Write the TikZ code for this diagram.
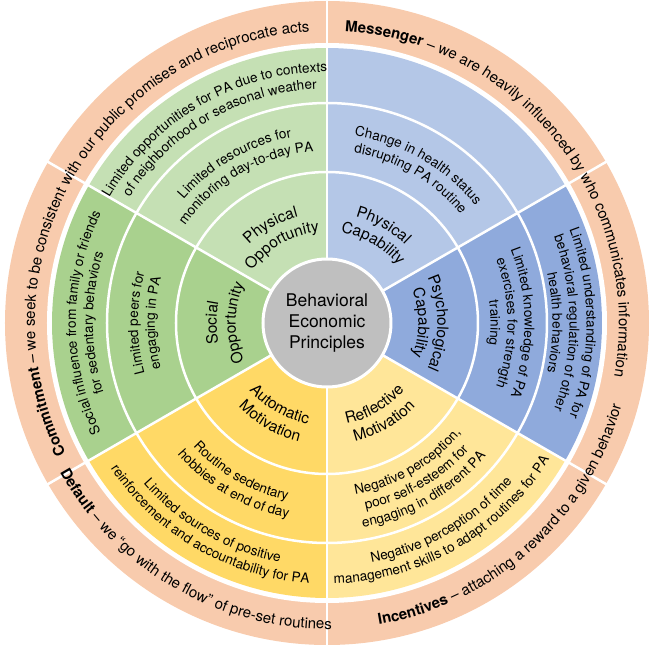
\documentclass[tikz,border=0pt]{standalone}
\usepackage{fontspec}
\setmainfont{TeX Gyre Heros}
\usetikzlibrary{decorations.text}
\definecolor{OppLight}{HTML}{C5E0B4}
\definecolor{OppDark}{HTML}{A9D18E}
\definecolor{MotDark}{HTML}{FFD966}
\definecolor{MotLight}{HTML}{FFE699}
\definecolor{CapDark}{HTML}{8FAADC}
\definecolor{CapLight}{HTML}{B4C7E7}
\definecolor{PrincOrange}{HTML}{F8CBAD}
\definecolor{CoreGray}{HTML}{BFBFBF}

\newcommand{\labelfont}{\fontsize{15.5}{18}\selectfont}
\newcommand{\itemfont}{\fontsize{13.6}{16}\selectfont}
\newcommand{\outerfont}{\fontsize{15}{18}\selectfont}
% text on an arc: start angle, end angle, radius, font, text
\newcommand{\arctext}[5]{\path[decorate, decoration={text along path, text align=center, text={|#4|#5}}] (#1:#3) arc[start angle=#1, end angle=#2, radius=#3];}

\begin{document}
\begin{tikzpicture}[x=1pt, y=1pt,
        divider/.style={white, line width=2.5pt},
        core/.style={circle, fill=CoreGray, draw=white, line width=3pt, minimum size=128pt, inner sep=0pt, align=center, font=\fontsize{17.5}{21}\selectfont}]
    \useasboundingbox (-327,-326) rectangle (327,323);

    % principle ring and sectors
    \fill[PrincOrange] (0,0) circle[radius=322];
    \fill[white] (0,0) circle[radius=280];
    \foreach \ang/\col in {90/OppLight, 150/OppDark, 210/MotDark, 270/MotLight, 330/CapDark, 30/CapLight}
        \fill[\col] (0,0) -- (\ang:275) arc[start angle=\ang, end angle=\ang+60, radius=275] -- cycle;
    \draw[divider] (0,0) circle[radius=151];
    \draw[divider] (0,0) circle[radius=220];
    \foreach \ang in {30,90,...,330}
        \draw[divider] (\ang:60) -- (\ang:323);

    \node[core] (core) at (0,0) {Behavioral\\Economic\\Principles};

    % COM-B components
    \arctext{150}{90}{110.4}{\labelfont}{Physical}
    \arctext{150}{90}{91.4}{\labelfont}{Opportunity}
    \arctext{90}{30}{110.4}{\labelfont}{Physical}
    \arctext{90}{30}{91.4}{\labelfont}{Capability}
    \arctext{30}{-30}{110.4}{\labelfont}{Psychological}
    \arctext{30}{-30}{91.4}{\labelfont}{Capability}
    \arctext{270}{330}{102.6}{\labelfont}{Reflective}
    \arctext{270}{330}{121.6}{\labelfont}{Motivation}
    \arctext{210}{270}{102.6}{\labelfont}{Automatic}
    \arctext{210}{270}{121.6}{\labelfont}{Motivation}
    \arctext{210}{150}{110.4}{\labelfont}{Social}
    \arctext{210}{150}{91.4}{\labelfont}{Opportunity}

    % barriers, middle ring
    \arctext{150}{90}{189.1}{\itemfont}{Limited resources for}
    \arctext{150}{90}{172.1}{\itemfont}{monitoring day-to-day PA}
    \arctext{90}{30}{189.1}{\itemfont}{Change in health status}
    \arctext{90}{30}{172.1}{\itemfont}{disrupting PA routine}
    \arctext{30}{-30}{197.6}{\itemfont}{Limited knowledge of PA}
    \arctext{30}{-30}{180.6}{\itemfont}{exercises for strength}
    \arctext{30}{-30}{163.6}{\itemfont}{training}
    \arctext{270}{330}{173.4}{\itemfont}{Negative perception,}
    \arctext{270}{330}{190.4}{\itemfont}{poor self-esteem for}
    \arctext{270}{330}{207.4}{\itemfont}{engaging in different PA}
    \arctext{210}{270}{181.9}{\itemfont}{Routine sedentary}
    \arctext{210}{270}{198.9}{\itemfont}{hobbies at end of day}
    \arctext{210}{150}{189.1}{\itemfont}{Limited peers for}
    \arctext{210}{150}{172.1}{\itemfont}{engaging in PA}

    % barriers, outer ring
    \arctext{151}{89}{251.1}{\itemfont}{Limited opportunities for PA due to contexts}
    \arctext{151}{89}{234.1}{\itemfont}{of neighborhood or seasonal weather}
    \arctext{30}{-30}{259.6}{\itemfont}{Limited understanding of PA for}
    \arctext{30}{-30}{242.6}{\itemfont}{behavioral regulation of other}
    \arctext{30}{-30}{225.6}{\itemfont}{health behaviors}
    \arctext{270}{330}{243.9}{\itemfont}{Negative perception of time}
    \arctext{270}{330}{260.9}{\itemfont}{management skills to adapt routines for PA}
    \arctext{210}{270}{243.9}{\itemfont}{Limited sources of positive}
    \arctext{210}{270}{260.9}{\itemfont}{reinforcement and accountability for PA}
    \arctext{210}{150}{251.1}{\itemfont}{Social influence from family or friends}
    \arctext{210}{150}{234.1}{\itemfont}{for sedentary behaviors}

    % behavioral economic principles
    \arctext{215}{85}{292}{\outerfont}{|\outerfont\bfseries|Commitment|\outerfont| – we seek to be consistent with our public promises and reciprocate acts}
    \arctext{100}{-24}{292}{\outerfont}{|\outerfont\bfseries|Messenger|\outerfont| – we are heavily influenced by who communicates information}
    \arctext{200}{280}{306}{\outerfont}{|\outerfont\bfseries|Default|\outerfont| – we “go with the flow” of pre-set routines}
    \arctext{272}{352}{306}{\outerfont}{|\outerfont\bfseries|Incentives|\outerfont| – attaching a reward to a given behavior}
\end{tikzpicture}
\end{document}
